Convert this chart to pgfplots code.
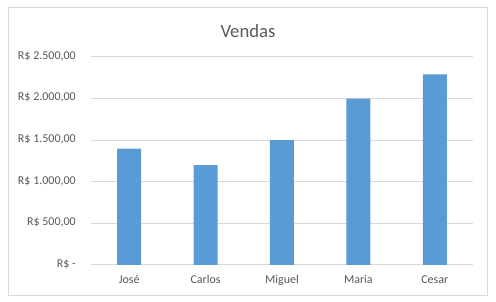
\documentclass[border=0pt]{standalone}
\usepackage{pgfplots}
\pgfplotsset{compat=1.18}
\usepackage{fontspec}
\setmainfont{Carlito}
\definecolor{barblue}{RGB}{91,155,213}
\definecolor{gridgray}{RGB}{217,217,217}
\definecolor{textgray}{RGB}{89,89,89}
\begin{document}
\begin{tikzpicture}[x=1pt,y=1pt]
\fill[white] (0,0) rectangle (496,302);
\draw[gridgray, line width=1pt] (8.5,6.5) rectangle (487.5,294.5);
\node[textgray, font=\fontsize{18.7}{22}\selectfont] at (248,271) {Vendas};
\begin{axis}[
  at={(91pt,37pt)}, anchor=south west,
  scale only axis, width=382pt, height=208pt,
  xmin=-0.5, xmax=4.5, ymin=0, ymax=2500,
  xtick={0,1,2,3,4},
  xticklabels={José,Carlos,Miguel,Maria,Cesar},
  ytick={0,500,1000,1500,2000,2500},
  yticklabels={{R\$ -}, {R\$ 500,00}, {R\$ 1.000,00}, {R\$ 1.500,00}, {R\$ 2.000,00}, {R\$ 2.500,00}},
  axis line style={draw=none},
  major tick length=0pt,
  ymajorgrids, grid style={gridgray, line width=1pt},
  tick label style={textgray, font=\fontsize{12}{14}\selectfont},
  yticklabel style={anchor=mid east, inner sep=0pt, xshift=-15pt},
  xticklabel style={anchor=base, inner sep=0pt, yshift=-19pt},
  clip=false,
]
\addplot[ybar, bar width=24pt, fill=barblue, draw=none] coordinates {
  (0,1400) (1,1200) (2,1500) (3,2000) (4,2290)
};
\end{axis}
\end{tikzpicture}
\end{document}
